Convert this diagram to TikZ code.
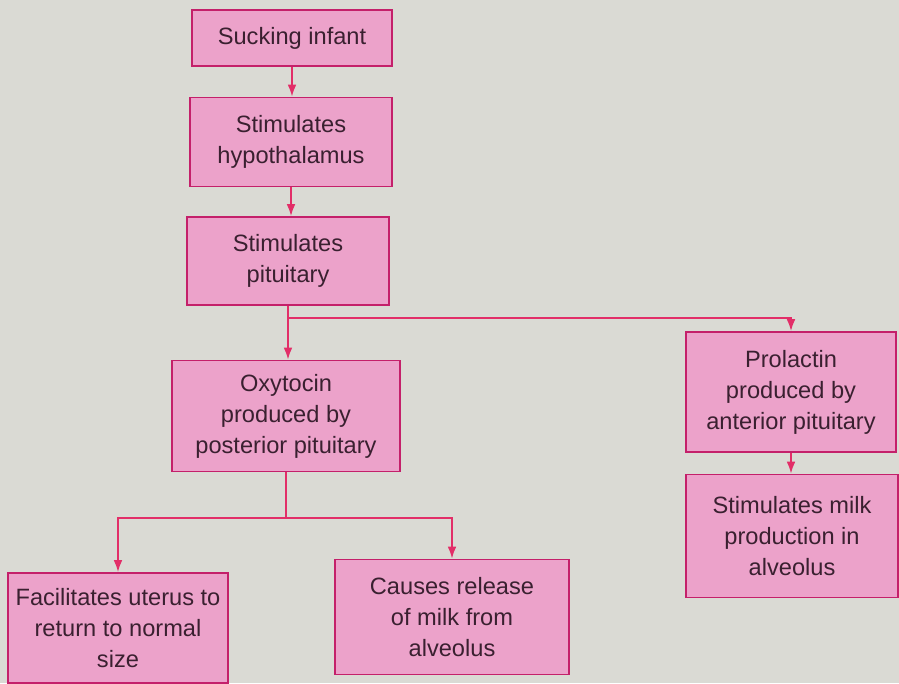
\documentclass[tikz,border=0pt]{standalone}
\usepackage{fontspec}
\usetikzlibrary{arrows.meta}
\setmainfont{Liberation Sans}
\definecolor{paper}{RGB}{218,218,212}
\definecolor{boxpink}{RGB}{236,162,202}
\definecolor{boxline}{RGB}{196,32,106}
\definecolor{linkred}{RGB}{226,46,104}
\definecolor{inkdark}{RGB}{58,32,48}
\tikzset{
  flowbox/.style={draw=boxline,fill=boxpink,line width=1.2pt,rectangle,align=center,
    text=inkdark,inner sep=0pt,font=\fontsize{16.8}{22}\selectfont},
  link/.style={->,>={Latex[length=3mm,width=2.2mm]},draw=linkred,line width=1.3pt}
}
\begin{document}
\begin{tikzpicture}[x=0.025cm,y=-0.025cm]
  \fill[paper] (0,0) rectangle (899,683);
  \useasboundingbox (0,0) rectangle (899,683);
  % left column
  \node (suck) [flowbox,minimum width=5cm,minimum height=1.4cm] at (292,38) {Sucking infant};
  \node (hypo) [flowbox,minimum width=5.05cm,minimum height=2.225cm] at (291,142) {Stimulates\\hypothalamus};
  \node (pit) [flowbox,minimum width=5.05cm,minimum height=2.2cm] at (288,261) {Stimulates\\pituitary};
  \node (oxy) [flowbox,minimum width=5.7cm,minimum height=2.775cm] at (286,416) {Oxytocin\\produced by\\posterior pituitary};
  \node (uterus) [flowbox,minimum width=5.5cm,minimum height=2.75cm] at (118,628) {Facilitates uterus to\\return to normal\\size};
  \node (release) [flowbox,minimum width=5.85cm,minimum height=2.875cm] at (452,617) {Causes release\\of milk from\\alveolus};
  % right column
  \node (prl) [flowbox,minimum width=5.25cm,minimum height=3cm] at (791,392) {Prolactin\\produced by\\anterior pituitary};
  \node (milk) [flowbox,minimum width=5.3cm,minimum height=3.075cm] at (792,536) {Stimulates milk\\production in\\alveolus};
  \coordinate (split1) at (288,318);
  \coordinate (split2) at (286,518);
  \draw [link] (suck.south) -- (suck.south |- hypo.north);
  \draw [link] (hypo.south) -- (hypo.south |- pit.north);
  \draw [link] (pit.south) -- (pit.south |- oxy.north);
  \draw [link] (split1) -| (prl.north);
  \draw [link] (prl.south) -- (prl.south |- milk.north);
  \draw [draw=linkred,line width=1.3pt] (oxy.south) -- (split2);
  \draw [link] (split2) -| (uterus.north);
  \draw [link] (split2) -| (release.north);
\end{tikzpicture}
\end{document}
